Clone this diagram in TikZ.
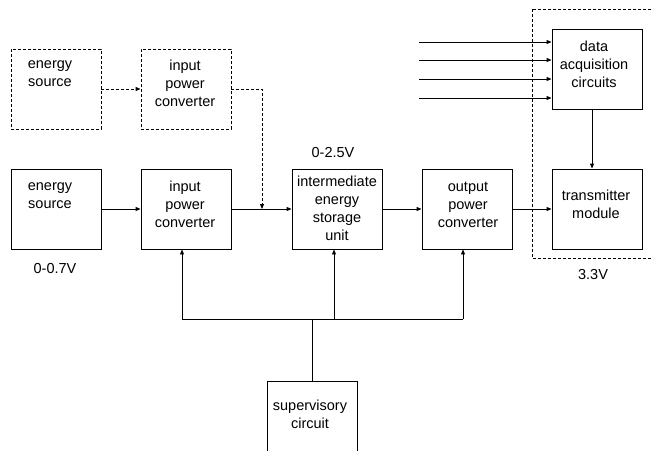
\documentclass[tikz,border=0pt]{standalone}
\usepackage{fontspec}
\setmainfont{Liberation Sans}
\usetikzlibrary{arrows.meta}
\begin{document}
\begin{tikzpicture}[x=1pt,y=-1pt,
  box/.style={draw,line width=0.9pt,minimum width=90pt,minimum height=80pt,inner sep=0pt},
  dbox/.style={box,dash pattern=on 3pt off 2pt},
  txt/.style={align=center,inner sep=0pt,font=\fontsize{14.5}{18}\selectfont},
  conn/.style={line width=0.9pt,-{Triangle[length=5pt,width=4pt]}},
  dconn/.style={conn,dash pattern=on 3pt off 2pt},
  wire/.style={line width=0.9pt}]
\useasboundingbox (0,0) rectangle (652,450);
% boxes
\node[dbox] (des) at (56,89) {};
\node[dbox] (dipc) at (186,89) {};
\node[box] (es) at (56,209) {};
\node[box] (ipc) at (186,209) {};
\node[box] (ies) at (337,209) {};
\node[box] (opc) at (467,209) {};
\node[box] (daq) at (597,69) {};
\node[box] (tx) at (597,209) {};
\node[box,anchor=north] (sup) at (312,381) {};
% dashed enclosure
\draw[wire,dash pattern=on 3pt off 2pt] (532,9) rectangle (670,258);
% texts
\node[txt] (tdes) at (50,74) {energy\\source};
\node[txt] (tdipc) at (185,83) {input\\power\\converter};
\node[txt] (tes) at (50,195.5) {energy\\source};
\node[txt] (tipc) at (185,204) {input\\power\\converter};
\node[txt] (ties) at (337,208) {intermediate\\energy\\storage\\unit};
\node[txt] (topc) at (468,205) {output\\power\\converter};
\node[txt] (tdaq) at (594,64) {data\\acquisition\\circuits};
\node[txt] (ttx) at (596,204) {transmitter\\module};
\node[txt] (tsup) at (310,414) {supervisory\\circuit};
\node[txt] (v1) at (55,269) {0-0.7V};
\node[txt] (v2) at (333,153) {0-2.5V};
\node[txt] (v3) at (593,275) {3.3V};
% coordinates
\coordinate (j1) at (262,209);
\coordinate (in1) at (419,42);
\coordinate (in2) at (419,60);
\coordinate (in3) at (419,79);
\coordinate (in4) at (419,98);
\coordinate (dx) at (592,0);
\coordinate (bus) at (312,319);
\coordinate (b1) at (182,319);
\coordinate (b2) at (334,319);
\coordinate (b3) at (463,319);
% connectors
\draw[dconn] (des) -- (dipc);
\draw[dconn] (dipc.east) -| (j1);
\draw[conn] (es) -- (ipc);
\draw[conn] (ipc) -- (ies);
\draw[conn] (ies) -- (opc);
\draw[conn] (opc) -- (tx);
\draw[conn] (daq.south -| dx) -- (tx.north -| dx);
\foreach \i in {in1,in2,in3,in4} \draw[conn] (\i) -- (\i -| daq.west);
\draw[wire] (sup.north) -- (bus);
\draw[wire] (b1) -- (b3);
\draw[conn] (b1) -- (b1 |- ipc.south);
\draw[conn] (b2) -- (b2 |- ies.south);
\draw[conn] (b3) -- (b3 |- opc.south);
\end{tikzpicture}
\end{document}
